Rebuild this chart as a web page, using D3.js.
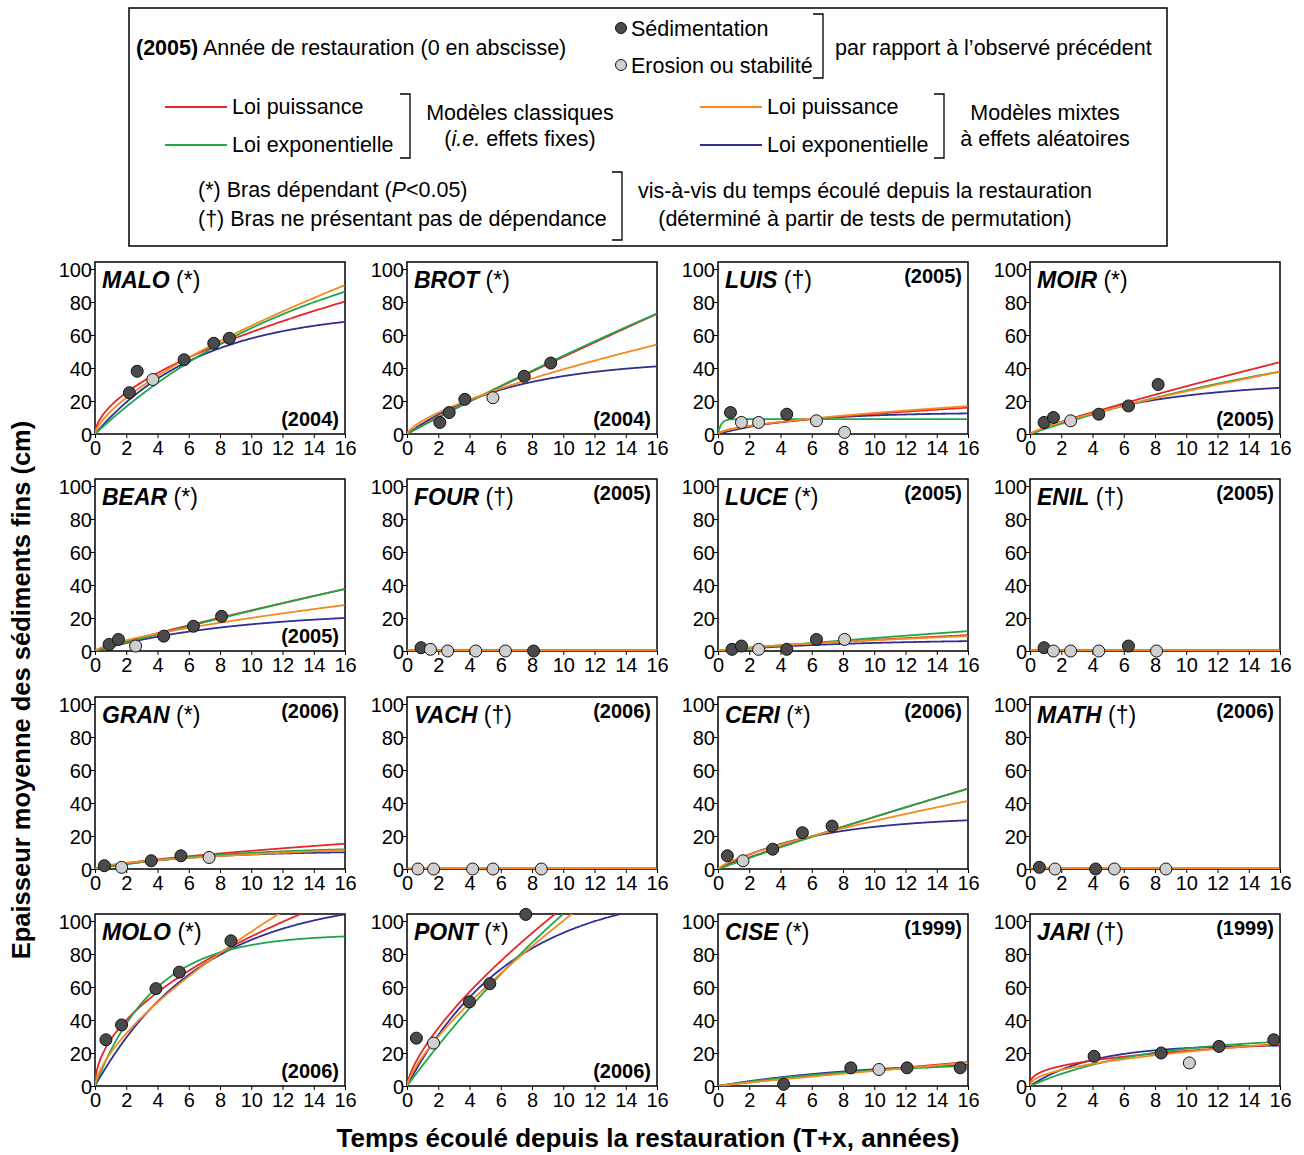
<!DOCTYPE html>
<html><head><meta charset="utf-8">
<script src="https://cdn.jsdelivr.net/npm/d3@7"></script>
<style>body{margin:0;background:#fff}text{font-family:"Liberation Sans",Arial,sans-serif}</style>
</head><body><svg id="c" width="1304" height="1155"></svg>
<script>
const names=["MALO","BROT","LUIS","MOIR","BEAR","FOUR","LUCE","ENIL","GRAN","VACH","CERI","MATH","MOLO","PONT","CISE","JARI"];
const signif=["*","*","†","*","*","†","*","†","*","†","*","†","*","*","*","†"];
const years=["2004","2004","2005","2005","2005","2005","2005","2005","2006","2006","2006","2006","2006","2006","1999","1999"];
const yearPos=["b","b","t","b","b","t","t","t","t","t","t","t","b","b","t","t"];
// observed points: [time, thickness, type] d = sedimentation, l = erosion/stability
const points=[
[[2.2,25,"d"],[2.7,38,"d"],[3.7,33,"l"],[5.7,45,"d"],[7.6,55,"d"],[8.6,58,"d"]],
[[2.1,7,"d"],[2.7,13,"d"],[3.7,21,"d"],[5.5,22,"l"],[7.5,35,"d"],[9.2,43,"d"]],
[[0.8,13,"d"],[1.5,7,"l"],[2.6,7,"l"],[4.4,12,"d"],[6.3,8,"l"],[8.1,1,"l"]],
[[0.9,7,"d"],[1.5,10,"d"],[2.6,8,"l"],[4.4,12,"d"],[6.3,17,"d"],[8.2,30,"d"]],
[[0.9,4,"d"],[1.5,7,"d"],[2.6,3,"l"],[4.4,9,"d"],[6.3,15,"d"],[8.1,21,"d"]],
[[0.9,2,"d"],[1.5,1,"l"],[2.6,0,"l"],[4.4,0,"l"],[6.3,0,"l"],[8.1,0,"d"]],
[[0.9,1,"d"],[1.5,3,"d"],[2.6,1,"l"],[4.4,1,"d"],[6.3,7,"d"],[8.1,7,"l"]],
[[0.9,2,"d"],[1.5,0,"l"],[2.6,0,"l"],[4.4,0,"l"],[6.3,3,"d"],[8.1,0,"l"]],
[[0.6,2,"d"],[1.7,1,"l"],[3.6,5,"d"],[5.5,8,"d"],[7.3,7,"l"]],
[[0.7,0,"l"],[1.7,0,"l"],[4.2,0,"l"],[5.5,0,"l"],[8.6,0,"l"]],
[[0.6,8,"d"],[1.6,5,"l"],[3.5,12,"d"],[5.4,22,"d"],[7.3,26,"d"]],
[[0.6,1,"d"],[1.6,0,"l"],[4.2,0,"d"],[5.4,0,"l"],[8.7,0,"l"]],
[[0.7,28,"d"],[1.7,37,"d"],[3.9,59,"d"],[5.4,69,"d"],[8.7,88,"d"]],
[[0.6,29,"d"],[1.7,26,"l"],[4.0,51,"d"],[5.3,62,"d"],[7.6,104,"d"]],
[[4.2,1,"d"],[8.5,11,"d"],[10.3,10,"l"],[12.1,11,"d"],[15.5,11,"d"]],
[[4.1,18,"d"],[8.4,20,"d"],[10.2,14,"l"],[12.1,24,"d"],[15.6,28,"d"]]
];
// fitted model parameters: power a*x^b ; exponential a*(1-exp(-b*x))
const powerFixed=[[17,0.56],[5.3,0.945],[3.2,0.58],[3.9,0.87],[3.1,0.9],[0.4,0.05],[1.2,0.75],[0.5,0.05],[2.2,0.7],[0.2,0.05],[3.7,0.93],[0.2,0.05],[28,0.51],[21.6,0.70],[1.2,0.9],[9.5,0.35]];
const expFixed=[[130,0.068],[400,0.0126],[9,5],[80,0.040],[200,0.013],[0.4,2],[60,0.014],[0.5,2],[14,0.12],[0.2,2],[250,0.0135],[0.2,2],[92,0.264],[300,0.0427],[16,0.09],[30,0.14]];
const powerMixed=[[13.7,0.68],[8,0.69],[3.2,0.6],[4.1,0.8],[4,0.7],[0.4,0.05],[1.3,0.7],[0.5,0.05],[2.5,0.55],[0.2,0.05],[5.3,0.74],[0.2,0.05],[20,0.67],[17.8,0.75],[1.1,0.92],[7,0.47]];
const expMixed=[[75,0.148],[45,0.151],[13,0.2],[32,0.13],[24,0.112],[0.4,2],[7,0.12],[0.5,2],[11,0.16],[0.2,2],[32,0.16],[0.2,2],[115,0.147],[120,0.1485],[16,0.1],[25,0.25]];
const xTicks=[0,2,4,6,8,10,12,14,16];
const yTicks=[0,20,40,60,80,100];

const svg=d3.select("#c");
const colX=[95,407,718,1030], rowY=[434,651,869,1086];
const W=250,H=165;
const C={red:"#e8262a",green:"#1ea84b",orange:"#f7891f",blue:"#2e3192"};
svg.append("defs");
names.forEach((nm,i)=>{
  const c=i%4,r=Math.floor(i/4);
  const g=svg.append("g").attr("transform",`translate(${colX[c]},${rowY[r]-H})`);
  const x=d3.scaleLinear().domain([0,16]).range([0,W]);
  const y=d3.scaleLinear().domain([0,100]).range([H,0]);
  svg.select("defs").append("clipPath").attr("id","cp"+i).append("rect").attr("x",0).attr("y",-7).attr("width",W).attr("height",H+7);
  g.append("rect").attr("x",0).attr("y",-7).attr("width",W).attr("height",H+7).attr("fill","none").attr("stroke","#000").attr("stroke-width",1.5);
  const xa=g.append("g").attr("transform",`translate(0,${H})`).call(d3.axisBottom(x).tickValues(xTicks).tickSize(4).tickSizeOuter(0));
  const ya=g.append("g").call(d3.axisLeft(y).tickValues(yTicks).tickSize(4).tickSizeOuter(0));
  [xa,ya].forEach(a=>{a.select(".domain").remove();a.selectAll("text").attr("font-size",20).attr("fill","#000").style("font-family","Liberation Sans, Arial");});
  xa.selectAll("text").attr("dy","0.95em").attr("y",2);
  ya.selectAll("text").attr("x",-3).attr("dy","0.35em");
  const xs=d3.range(0.02,16.001,0.05);
  const pw=p=>t=>p[0]*Math.pow(t,p[1]);
  const ex=p=>t=>p[0]*(1-Math.exp(-p[1]*t));
  const cg=g.append("g").attr("clip-path",`url(#cp${i})`);
  [[expMixed[i],ex,C.blue],[powerFixed[i],pw,C.red],[expFixed[i],ex,C.green],[powerMixed[i],pw,C.orange]].forEach(([p,f,col])=>{
    const fn=f(p);
    cg.append("path").attr("d",d3.line().x(t=>x(t)).y(t=>y(fn(t)))([0,...xs])).attr("fill","none").attr("stroke",col).attr("stroke-width",1.8);
  });
  g.selectAll("circle.p").data(points[i]).join("circle").attr("cx",d=>x(d[0])).attr("cy",d=>y(d[1])).attr("r",6)
   .attr("fill",d=>d[2]==="d"?"#4a4a4a":"#cfcfcf").attr("stroke","#111").attr("stroke-width",1);
  const t=g.append("text").attr("x",7).attr("y",19).attr("font-size",23);
  t.append("tspan").text(nm).attr("font-weight","bold").attr("font-style","italic");
  t.append("tspan").text(` (${signif[i]})`);
  g.append("text").attr("x",W-6).attr("y",yearPos[i]==="t"?14:H-8).attr("text-anchor","end").attr("font-size",20).attr("font-weight","bold").text(`(${years[i]})`);
});
svg.append("text").attr("transform","translate(30,690) rotate(-90)").attr("text-anchor","middle").attr("font-size",25.5).attr("font-weight","bold").text("Epaisseur moyenne des sédiments fins (cm)");
svg.append("text").attr("x",648).attr("y",1147).attr("text-anchor","middle").attr("font-size",26).attr("font-weight","bold").text("Temps écoulé depuis la restauration (T+x, années)");
// legend
const L=svg.append("g");
L.append("rect").attr("x",129).attr("y",8).attr("width",1038).attr("height",238).attr("fill","none").attr("stroke","#000").attr("stroke-width",1.5);
const tx=(x,y,s,o={})=>{const e=L.append("text").attr("x",x).attr("y",y).attr("font-size",21.5).attr("text-anchor",o.a||"start");if(o.html)e.html(s);else e.text(s);return e;};
tx(136,55,'<tspan font-weight="bold">(2005)</tspan> Année de restauration (0 en abscisse)',{html:1});
L.append("circle").attr("cx",621).attr("cy",28).attr("r",5.5).attr("fill","#4a4a4a").attr("stroke","#111");
L.append("circle").attr("cx",621).attr("cy",65).attr("r",5.5).attr("fill","#cfcfcf").attr("stroke","#111");
tx(631,36,"Sédimentation");tx(631,73,"Erosion ou stabilité");
const br=(x,y1,y2)=>L.append("path").attr("d",`M${x},${y1}H${x+10}V${y2}H${x}`).attr("fill","none").attr("stroke","#000").attr("stroke-width",1.3);
br(813,14,78);tx(835,55,"par rapport à l’observé précédent");
[[165,107,C.red,"Loi puissance"],[165,145,C.green,"Loi exponentielle"],[700,107,C.orange,"Loi puissance"],[700,145,C.blue,"Loi exponentielle"]].forEach(([x,y,c,s])=>{
  L.append("line").attr("x1",x).attr("x2",x+62).attr("y1",y).attr("y2",y).attr("stroke",c).attr("stroke-width",2);
  tx(x+67,y+7,s);
});
br(400,94,158);tx(520,120,"Modèles classiques",{a:"middle"});tx(520,146,'(<tspan font-style="italic">i.e.</tspan> effets fixes)',{html:1,a:"middle"});
br(934,94,158);tx(1045,120,"Modèles mixtes",{a:"middle"});tx(1045,146,"à effets aléatoires",{a:"middle"});
tx(198,197,'(*) Bras dépendant (<tspan font-style="italic">P</tspan>&lt;0.05)',{html:1});
tx(198,226,"(†) Bras ne présentant pas de dépendance");
br(612,172,240);tx(865,198,"vis-à-vis du temps écoulé depuis la restauration",{a:"middle"});tx(865,226,"(déterminé à partir de tests de permutation)",{a:"middle"});
</script></body></html>
